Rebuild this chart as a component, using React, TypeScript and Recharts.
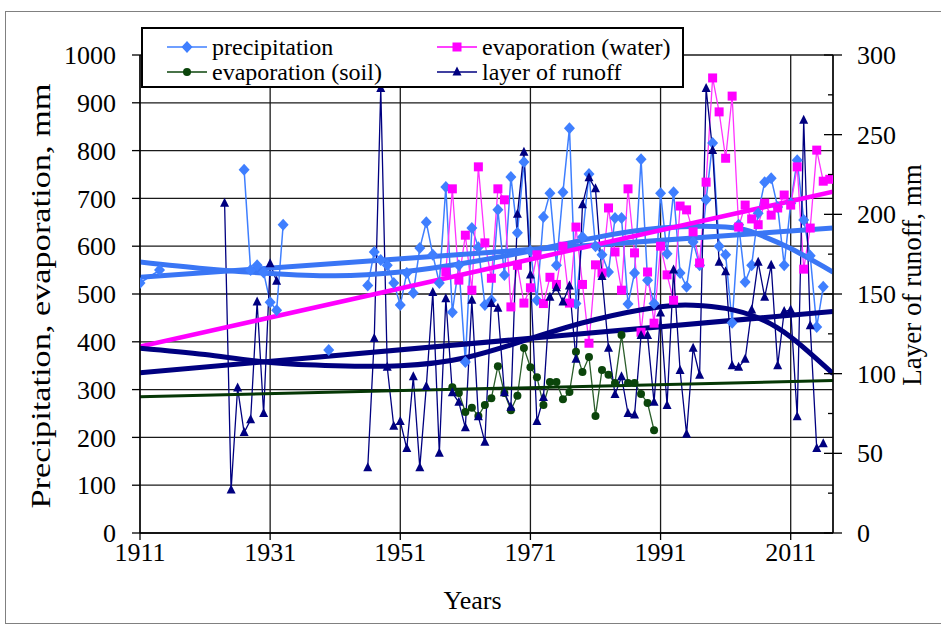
import React from 'react';
import { ComposedChart, Line, XAxis, YAxis, CartesianGrid, Label } from 'recharts';

type Pt = [number, number | null];

// yearly values, null = gap in the record
const precipitation: Pt[] = [
  [1911, 523], [1914, 550], [1920, null],
  [1927, 760], [1928, 550], [1929, 560], [1930, 545], [1931, 483], [1932, 466], [1933, 645], [1936, null],
  [1940, 383], [1943, null],
  [1946, 518], [1947, 588], [1948, 571], [1949, 560], [1950, 523], [1951, 477], [1952, 544], [1953, 502],
  [1954, 596], [1955, 650], [1956, 582], [1957, 523], [1958, 724], [1959, 462], [1960, 560], [1961, 358],
  [1962, 638], [1963, 598], [1964, 477], [1965, 487], [1966, 676], [1967, 540], [1968, 745], [1969, 628],
  [1970, 776], [1971, 590], [1972, 487], [1973, 661], [1974, 711], [1975, 560], [1976, 713], [1977, 847],
  [1978, 480], [1979, 619], [1980, 751], [1981, 600], [1982, 582], [1983, 546], [1984, 659], [1985, 659],
  [1986, 479], [1987, 544], [1988, 782], [1989, 529], [1990, 480], [1991, 711], [1992, 584], [1993, 713],
  [1994, 544], [1995, 515], [1996, 609], [1997, 560], [1998, 697], [1999, 816], [2000, 600], [2001, 582],
  [2002, 440], [2003, 645], [2004, 525], [2005, 560], [2006, 669], [2007, 734], [2008, 742], [2009, 682],
  [2010, 560], [2011, 690], [2012, 780], [2013, 655], [2014, 580], [2015, 431], [2016, 515],
];

const evapWater: Pt[] = [
  [1958, 546], [1959, 720], [1960, 529], [1961, 623], [1962, 508], [1963, 766], [1964, 607], [1965, 533],
  [1966, 720], [1967, 697], [1968, 473], [1969, 560], [1970, 481], [1971, 513], [1972, 582], [1973, 480],
  [1974, 535], [1975, 520], [1976, 600], [1977, 481], [1978, 640], [1979, 520], [1980, 397], [1981, 561],
  [1982, 544], [1983, 680], [1984, 588], [1985, 508], [1986, 720], [1987, 586], [1988, 420], [1989, 546],
  [1990, 439], [1991, 600], [1992, 540], [1993, 487], [1994, 684], [1995, 676], [1996, 630], [1997, 565],
  [1998, 734], [1999, 952], [2000, 881], [2001, 784], [2002, 914], [2003, 640], [2004, 686], [2005, 657],
  [2006, 645], [2007, 690], [2008, 665], [2009, 680], [2010, 707], [2011, 686], [2012, 766], [2013, 552],
  [2014, 638], [2015, 801], [2016, 736], [2017, 740],
];

const evapSoil: Pt[] = [
  [1959, 305], [1960, 293], [1961, 253], [1962, 262], [1963, 245], [1964, 268], [1965, 282], [1966, 349],
  [1967, 293], [1968, 257], [1969, 287], [1970, 387], [1971, 347], [1972, 326], [1973, 268], [1974, 316],
  [1975, 316], [1976, 280], [1977, 295], [1978, 379], [1979, 337], [1980, 368], [1981, 245], [1982, 341],
  [1983, 331], [1984, 314], [1985, 414], [1986, 314], [1987, 314], [1988, 291], [1989, 272], [1990, 215],
];

const runoff: Pt[] = [
  [1924, 207], [1925, 27], [1926, 91], [1927, 63], [1928, 71], [1929, 145], [1930, 75], [1931, 169], [1932, 158],
  [1940, null],
  [1946, 41], [1947, 122], [1948, 279], [1949, 104], [1950, 67], [1951, 70], [1952, 53], [1953, 98],
  [1954, 41], [1955, 92], [1956, 151], [1957, 50], [1958, 147], [1959, 88], [1960, 82], [1961, 66],
  [1962, 146], [1963, 73], [1964, 57], [1965, 144], [1966, 141], [1967, 88], [1968, 79], [1969, 200],
  [1970, 239], [1971, 162], [1972, 70], [1973, 85], [1974, 148], [1975, 154], [1976, 145], [1977, 155],
  [1978, 109], [1979, 206], [1980, 223], [1981, 216], [1982, 161], [1983, 116], [1984, 87], [1985, 98],
  [1986, 75], [1987, 74], [1988, 124], [1989, 124], [1990, 82], [1991, 138], [1992, 80], [1993, 165],
  [1994, 102], [1995, 62], [1996, 116], [1997, 99], [1998, 279], [1999, 240], [2000, 170], [2001, 164],
  [2002, 105], [2003, 104], [2004, 109], [2005, 140], [2006, 170], [2007, 148], [2008, 168], [2009, 105],
  [2010, 139], [2011, 140], [2012, 73], [2013, 259], [2014, 130], [2015, 53], [2016, 56],
];

// trend lines as they appear on the picture
const precipLinear: Pt[] = [[1911, 535], [2017.5, 638]];
const precipPoly: Pt[] = [
  [1911, 567], [1921, 553], [1931, 543], [1941, 538], [1951, 546], [1961, 565], [1971, 590],
  [1981, 618], [1991, 638], [2001, 640], [2006, 625], [2011, 595], [2017.5, 546],
];
const waterLinear: Pt[] = [[1911, 390], [2017.5, 714]];
const soilLinear: Pt[] = [[1911, 285], [2017.5, 319]];
const runoffLinear: Pt[] = [[1911, 100.5], [2017.5, 139]];
const runoffPoly: Pt[] = [
  [1911, 116], [1921, 112], [1931, 107], [1941, 105], [1951, 105], [1961, 110], [1971, 122],
  [1981, 134], [1991, 142], [1996, 143], [2001, 141], [2006, 135], [2011, 123], [2017.5, 100],
];

const yearTicks = [1911, 1931, 1951, 1971, 1991, 2011];
const leftTicks = [0, 100, 200, 300, 400, 500, 600, 700, 800, 900, 1000];
const rightTicks = [0, 25, 50, 75, 100, 125, 150, 175, 200, 225, 250, 275, 300];

const FONT = '"Liberation Serif", "Times New Roman", serif';
const BLUE = '#3f7fff';
const MAGENTA = '#ff00ff';
const GREEN = '#0b450b';
const NAVY = '#000080';

const rows = (pts: Pt[]) => pts.map(([year, v]) => ({ year, v }));

const empty = (p: any) => <g key={`e-${p.index}`} />;

const diamond = (color: string) => (p: any) =>
  p.cx == null || p.cy == null || p.value == null ? empty(p) : (
    <polygon key={`d-${p.index}`} fill={color}
      points={`${p.cx},${p.cy - 6} ${p.cx + 5.5},${p.cy} ${p.cx},${p.cy + 6} ${p.cx - 5.5},${p.cy}`} />
  );
const square = (color: string) => (p: any) =>
  p.cx == null || p.cy == null || p.value == null ? empty(p) : (
    <rect key={`s-${p.index}`} x={p.cx - 4.5} y={p.cy - 4.5} width={9} height={9} fill={color} />
  );
const circle = (color: string) => (p: any) =>
  p.cx == null || p.cy == null || p.value == null ? empty(p) : (
    <circle key={`c-${p.index}`} cx={p.cx} cy={p.cy} r={4} fill={color} />
  );
const triangle = (color: string) => (p: any) =>
  p.cx == null || p.cy == null || p.value == null ? empty(p) : (
    <polygon key={`t-${p.index}`} fill={color}
      points={`${p.cx},${p.cy - 5.5} ${p.cx + 4.5},${p.cy + 3.5} ${p.cx - 4.5},${p.cy + 3.5}`} />
  );

const tickFont = { fontFamily: FONT, fontSize: 26, fill: '#000', style: { fontFamily: FONT } };

const RightTick = (p: any) => {
  const { x, y, payload } = p;
  const major = payload.value % 50 === 0;
  return (
    <g>
      <line x1={major ? x - 9 : x - 5} x2={major ? x + 9 : x} y1={y} y2={y} stroke="#000" strokeWidth={1.3} />
      {major && (
        <text x={x + 24} y={y} dy="0.35em" textAnchor="start" fontSize={26} fill="#000" style={{ fontFamily: FONT }}>
          {payload.value}
        </text>
      )}
    </g>
  );
};

const legendItems = [
  { name: 'precipitation', color: BLUE, mark: 'diamond', col: 0, row: 0 },
  { name: 'evaporation (water)', color: MAGENTA, mark: 'square', col: 1, row: 0 },
  { name: 'evaporation (soil)', color: GREEN, mark: 'circle', col: 0, row: 1 },
  { name: 'layer of runoff', color: NAVY, mark: 'triangle', col: 1, row: 1 },
];

const LegendMark = ({ mark, color, cx, cy }: any) => {
  if (mark === 'diamond') return <polygon fill={color} points={`${cx},${cy - 6} ${cx + 5.5},${cy} ${cx},${cy + 6} ${cx - 5.5},${cy}`} />;
  if (mark === 'square') return <rect x={cx - 4.5} y={cy - 4.5} width={9} height={9} fill={color} />;
  if (mark === 'circle') return <circle cx={cx} cy={cy} r={4} fill={color} />;
  return <polygon fill={color} points={`${cx},${cy - 5.5} ${cx + 4.5},${cy + 3.5} ${cx - 4.5},${cy + 3.5}`} />;
};

const App: React.FC = () => {
  return (
    <div style={{ position: 'absolute', left: 0, top: 0, width: 941, height: 630, background: '#fff', overflow: 'hidden', fontFamily: FONT }}>
      <div style={{ position: 'absolute', left: 5, top: 11, width: 960, height: 611, border: '1px solid #808080' }} />
      <ComposedChart width={941} height={630} margin={{ top: 55, right: 0, bottom: 57, left: 80 }} style={{ fontFamily: FONT }}>
        <CartesianGrid stroke="#1a1a1a" strokeWidth={1.3} />
        <XAxis
          type="number" dataKey="year" domain={[1911, 2017.5]} allowDataOverflow ticks={yearTicks}
          height={40} tickSize={7} tickMargin={3} stroke="#000" strokeWidth={1.3}
          tick={tickFont}
        >
          <Label content={({ viewBox }: any) => (
            <text x={viewBox.x + viewBox.width / 2 - 14} y={viewBox.y + 76} textAnchor="middle"
              fontSize={26} fill="#000" style={{ fontFamily: FONT }}>Years</text>
          )} />
        </XAxis>
        <YAxis
          domain={[0, 1000]} ticks={leftTicks} width={60} tickSize={8} tickMargin={16}
          stroke="#000" strokeWidth={1.3} interval={0}
          tick={tickFont}
        >
          <Label content={({ viewBox }: any) => {
            const cx = viewBox.x - 40;
            const cy = viewBox.y + viewBox.height / 2 + 2;
            return (
              <text x={cx} y={cy} transform={`rotate(-90, ${cx}, ${cy})`} textAnchor="middle" dominantBaseline="central"
                fontSize={28} fill="#000" textLength={425} lengthAdjust="spacingAndGlyphs"
                style={{ fontFamily: FONT }}>Precipitation, evaporation, mm</text>
            );
          }} />
        </YAxis>
        <YAxis
          yAxisId="R" orientation="right" domain={[0, 300]} ticks={rightTicks} width={108}
          tickSize={0} tickMargin={0} tickLine={false} interval={0} stroke="#000" strokeWidth={1.3}
          tick={RightTick}
        >
          <Label content={({ viewBox }: any) => {
            const cx = viewBox.x + 79;
            const cy = 275;
            return (
              <text x={cx} y={cy} transform={`rotate(-90, ${cx}, ${cy})`} textAnchor="middle" dominantBaseline="central"
                fontSize={27} fill="#000" style={{ fontFamily: FONT }}>Layer of runoff, mm</text>
            );
          }} />
        </YAxis>

        <Line data={rows(precipitation)} dataKey="v" stroke={BLUE} strokeWidth={1.5} dot={diamond(BLUE)}
          activeDot={false} isAnimationActive={false} />
        <Line data={rows(evapWater)} dataKey="v" stroke="#ff33ff" strokeWidth={1.3} dot={square(MAGENTA)}
          activeDot={false} isAnimationActive={false} />
        <Line data={rows(evapSoil)} dataKey="v" stroke="#2b5e2b" strokeWidth={1.3} dot={circle(GREEN)}
          activeDot={false} isAnimationActive={false} />
        <Line data={rows(runoff)} yAxisId="R" dataKey="v" stroke={NAVY} strokeWidth={1.3} dot={triangle(NAVY)}
          activeDot={false} isAnimationActive={false} />

        <Line data={rows(precipLinear)} dataKey="v" stroke="#3a76f5" strokeWidth={5} dot={false}
          activeDot={false} isAnimationActive={false} />
        <Line data={rows(precipPoly)} type="natural" dataKey="v" stroke="#3a76f5" strokeWidth={5} dot={false}
          activeDot={false} isAnimationActive={false} />
        <Line data={rows(waterLinear)} dataKey="v" stroke={MAGENTA} strokeWidth={4.5} dot={false}
          activeDot={false} isAnimationActive={false} />
        <Line data={rows(soilLinear)} dataKey="v" stroke="#053805" strokeWidth={3} dot={false}
          activeDot={false} isAnimationActive={false} />
        <Line data={rows(runoffLinear)} yAxisId="R" dataKey="v" stroke={NAVY} strokeWidth={5} dot={false}
          activeDot={false} isAnimationActive={false} />
        <Line data={rows(runoffPoly)} yAxisId="R" type="natural" dataKey="v" stroke={NAVY} strokeWidth={5} dot={false}
          activeDot={false} isAnimationActive={false} />
      </ComposedChart>

      <div style={{ position: 'absolute', left: 141, top: 27, width: 539, height: 57, border: '2px solid #000', background: '#fff' }}>
        <svg width={539} height={57} style={{ display: 'block' }}>
          {legendItems.map(it => {
            const x0 = it.col === 0 ? 24 : 294;
            const cy = it.row === 0 ? 18 : 43;
            return (
              <g key={it.name}>
                <line x1={x0} x2={x0 + 40} y1={cy} y2={cy} stroke={it.color} strokeWidth={1.5} />
                <LegendMark mark={it.mark} color={it.color} cx={x0 + 20} cy={cy} />
                <text x={x0 + 45} y={cy} dy="0.33em" fontSize={24} fill="#000" style={{ fontFamily: FONT }}>{it.name}</text>
              </g>
            );
          })}
        </svg>
      </div>
    </div>
  );
};

export default App;
